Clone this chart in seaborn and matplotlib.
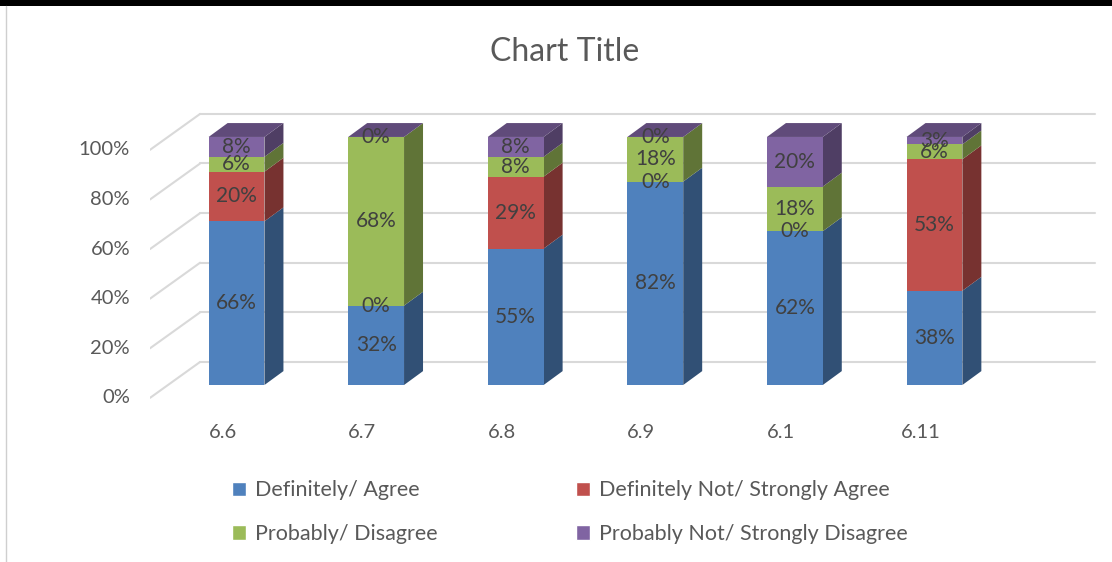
import numpy as np
import pandas as pd
import matplotlib
matplotlib.use("Agg")
import matplotlib.pyplot as plt
import seaborn as sns
from matplotlib.patches import Patch, Polygon, Rectangle
from matplotlib.lines import Line2D

# values (percent)
questions = ["6.6", "6.7", "6.8", "6.9", "6.1", "6.11"]
series = ["Definitely/ Agree", "Definitely Not/ Strongly Agree",
          "Probably/ Disagree", "Probably Not/ Strongly Disagree"]
definitely_agree = [66, 32, 55, 82, 62, 38]
definitely_not = [20, 0, 29, 0, 0, 53]
probably_disagree = [6, 68, 8, 18, 18, 6]
probably_not = [8, 0, 8, 0, 20, 3]
grid_values = [0, 20, 40, 60, 80, 100]
colors = ["#4F81BD", "#C0504D", "#9BBB59", "#8064A2"]

df = pd.DataFrame({"question": questions,
                   series[0]: definitely_agree,
                   series[1]: definitely_not,
                   series[2]: probably_disagree,
                   series[3]: probably_not})
cum = df[series].cumsum(axis=1)
for s in series:
    df["cum_" + s] = cum[s]

sns.set_theme(style="white")
plt.rcParams["font.family"] = ["Lato", "DejaVu Sans"]

W, H = 1112, 562
fig = plt.figure(figsize=(W / 100, H / 100), dpi=100)
ax = fig.add_axes([150 / W, 1 - 410 / H, 950 / W, 310 / H])

BAR_W = 0.4
DX, DY = 0.136, 5.6          # bar depth (data units)
WALL_DY = 9.3                # back wall offset
FLOOR_DY = -5.2

def darker(c, f):
    r, g, b = matplotlib.colors.to_rgb(c)
    return (r * f, g * f, b * f)

# back wall gridlines and left-side diagonals
for v in grid_values:
    ax.plot([-0.261, 6.15], [v + WALL_DY, v + WALL_DY], color="#d9d9d9", lw=1.5, zorder=0)
    ax.plot([-0.62, -0.261], [v + FLOOR_DY, v + WALL_DY], color="#d9d9d9", lw=1.5, zorder=0)
    ax.text(-0.763, v + FLOOR_DY, f"{v}%", ha="right", va="center",
            fontsize=14.5, color="#595959")

# front faces: cumulative bars drawn top series first
for s, c in reversed(list(zip(series, colors))):
    sns.barplot(data=df, x="question", y="cum_" + s, color=c, saturation=1,
                width=BAR_W, linewidth=0, ax=ax, zorder=2)

# side and top faces
for i in range(len(questions)):
    bottom = 0
    right = i + BAR_W / 2
    for s, c in zip(series, colors):
        h = df[s].iloc[i]
        top = bottom + h
        if h > 0:
            ax.add_patch(Polygon([(right, bottom), (right + DX, bottom + DY),
                                  (right + DX, top + DY), (right, top)],
                                 closed=True, facecolor=darker(c, 0.62),
                                 edgecolor="none", zorder=1))
        bottom = top
    left = i - BAR_W / 2
    ax.add_patch(Polygon([(left, bottom), (left + DX, bottom + DY),
                          (right + DX, bottom + DY), (right, bottom)],
                         closed=True, facecolor=darker(colors[3], 0.75),
                         edgecolor="none", zorder=1))

# data labels
for i in range(len(questions)):
    bottom = 0
    for s in series:
        h = df[s].iloc[i]
        ax.text(i, bottom + h / 2, f"{h}%", ha="center", va="center",
                fontsize=15, color="#404040", zorder=5)
        bottom += h
    ax.text(i - 0.1, -19, questions[i], ha="center", va="center",
            fontsize=14.5, color="#595959", clip_on=False)

ax.set_xlim(-0.62, 6.186)
ax.set_ylim(-10.08, 114.9)
ax.axis("off")

fig.text(565 / W, 1 - 52 / H, "Chart Title", ha="center", va="center",
         fontsize=23, color="#595959")

handles = [Patch(facecolor=colors[0], label=series[0]),
           Patch(facecolor=colors[2], label=series[2]),
           Patch(facecolor=colors[1], label=series[1]),
           Patch(facecolor=colors[3], label=series[3])]
fig.legend(handles=handles, ncol=2, loc="upper left",
           bbox_to_anchor=(213 / W, 1 - 461 / H), frameon=False,
           fontsize=15.5, labelcolor="#595959", handlelength=0.65,
           handleheight=0.65, handletextpad=0.4, columnspacing=6.43,
           labelspacing=1.1)

# page borders
fig.add_artist(Rectangle((0, 1 - 6 / H), 1, 6 / H, transform=fig.transFigure,
                         facecolor="black", edgecolor="none"))
fig.add_artist(Line2D([6 / W, 6 / W], [0, 1 - 6 / H], transform=fig.transFigure,
                      color="#cfcfcf", lw=1))

fig.savefig("out.png", dpi=100)
